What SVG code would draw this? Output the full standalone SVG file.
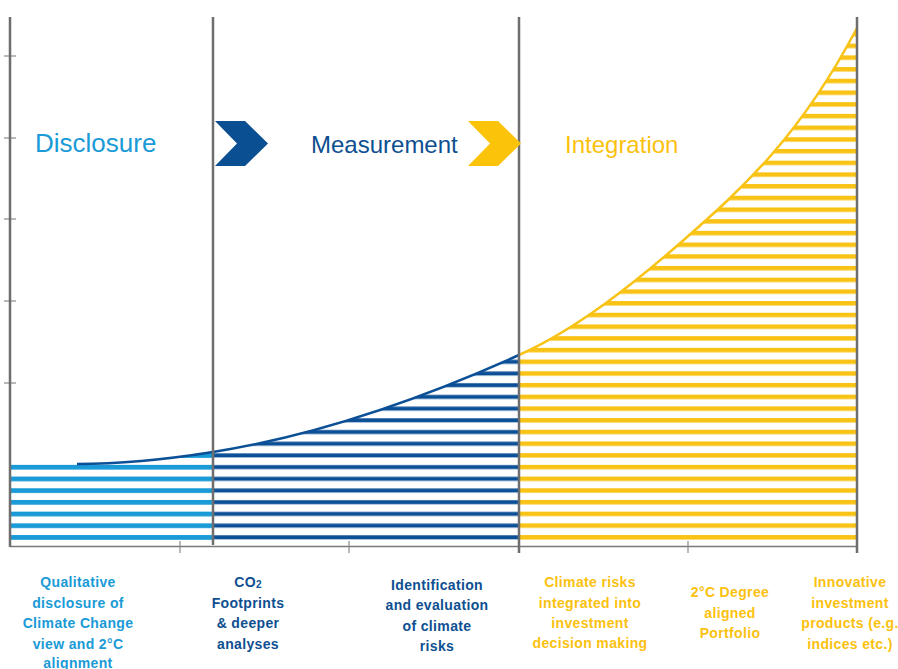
<svg xmlns="http://www.w3.org/2000/svg" width="898" height="669" viewBox="0 0 898 669">
<style>
.lbl{font-family:"Liberation Sans",Arial,sans-serif;font-weight:bold;font-size:14px;letter-spacing:0.35px;text-anchor:middle}
.head{font-family:"Liberation Sans",Arial,sans-serif}
.lb{fill:#1a9ad6}.db{fill:#0e4f91}.yl{fill:#fbc10f}
.div{stroke:#6e6e6e;stroke-width:2.5;fill:none}
.axis{stroke:#7a7a7a;stroke-width:1.5;fill:none}
.tick{stroke:#8a8a8a;stroke-width:1.2}
</style>
<defs>
<pattern id="pL" patternUnits="userSpaceOnUse" x="0" y="8.55" width="900" height="11.7"><rect x="0" y="-0.25" width="900" height="5" fill="#1a9ad6"/></pattern>
<pattern id="pD" patternUnits="userSpaceOnUse" x="0" y="8.55" width="900" height="11.7"><rect x="0" y="0.25" width="900" height="4" fill="#0b4f96"/></pattern>
<pattern id="pY" patternUnits="userSpaceOnUse" x="0" y="8.55" width="900" height="11.7"><rect x="0" y="0" width="900" height="4.5" fill="#f9c316"/></pattern>
<clipPath id="under"><path d="M10,464 L77,464 C122.3,464 167.7,459.2 213,452 C315,435.7 417,400.9 519,355 C574.7,330 630.3,287 686,238 C743,187.8 800,136.3 857,28 L857,546 L10,546 Z"/></clipPath>
</defs>

<g id="stripes" clip-path="url(#under)">
<rect x="10" y="0" width="203" height="541" fill="url(#pL)"/>
<rect x="213" y="0" width="306" height="541" fill="url(#pD)"/>
<rect x="519" y="0" width="338" height="541" fill="url(#pY)"/>
</g>

<g id="curve" fill="none" stroke-width="2.5">
<path d="M77,464 C122.3,464 167.7,459.2 213,452 C315,435.7 417,400.9 519,355" stroke="#0b4f96"/>
<path d="M519,355 C574.7,330 630.3,287 686,238 C743,187.8 800,136.3 857,28" stroke="#f9c316"/>
</g>

<g id="axes">
<line class="axis" x1="10" y1="546.5" x2="857" y2="546.5"/>
<line class="tick" x1="180" y1="541" x2="180" y2="553"/>
<line class="tick" x1="349" y1="541" x2="349" y2="553"/>
<line class="tick" x1="688" y1="541" x2="688" y2="553"/>
<line class="tick" x1="4" y1="56" x2="16" y2="56"/>
<line class="tick" x1="4" y1="138" x2="16" y2="138"/>
<line class="tick" x1="4" y1="219" x2="16" y2="219"/>
<line class="tick" x1="4" y1="301" x2="16" y2="301"/>
<line class="tick" x1="4" y1="383" x2="16" y2="383"/>
<line class="div" x1="10" y1="17" x2="10" y2="547"/>
</g>

<g id="dividers">
<line class="div" x1="213" y1="17" x2="213" y2="545"/>
<line class="div" x1="519" y1="17" x2="519" y2="553"/>
<line class="div" x1="857" y1="17" x2="857" y2="553"/>
</g>

<g id="stage-disclosure">
<text class="head lb" x="35" y="152" font-size="26">Disclosure</text>
</g>
<g id="chevron-blue">
<polygon points="215,121 245,121 268,143.5 245,166 215,166 237,143.5" fill="#0b4f93"/>
</g>
<g id="stage-measurement">
<text class="head db" x="311" y="153" font-size="24">Measurement</text>
</g>
<g id="chevron-yellow">
<polygon points="468,121 498,121 521,143.5 498,166 468,166 490,143.5" fill="#fcc30b"/>
</g>
<g id="stage-integration">
<text class="head yl" x="565" y="153" font-size="24">Integration</text>
</g>

<g id="label-qualitative">
<text class="lbl lb" x="78" y="587">Qualitative</text>
<text class="lbl lb" x="78" y="607.5">disclosure of</text>
<text class="lbl lb" x="78" y="628">Climate Change</text>
<text class="lbl lb" x="78" y="648.5">view and 2°C</text>
<text class="lbl lb" x="78" y="667.5">alignment</text>
</g>
<g id="label-co2">
<text class="lbl db" x="248" y="587">CO<tspan font-size="10" dy="1">2</tspan></text>
<text class="lbl db" x="248" y="607.5">Footprints</text>
<text class="lbl db" x="248" y="628">&amp; deeper</text>
<text class="lbl db" x="248" y="649">analyses</text>
</g>
<g id="label-identification">
<text class="lbl db" x="437" y="589.5">Identification</text>
<text class="lbl db" x="437" y="610">and evaluation</text>
<text class="lbl db" x="437" y="630.5">of climate</text>
<text class="lbl db" x="437" y="651">risks</text>
</g>
<g id="label-climate-risks">
<text class="lbl yl" x="590" y="587">Climate risks</text>
<text class="lbl yl" x="590" y="607.5">integrated into</text>
<text class="lbl yl" x="590" y="627.5">investment</text>
<text class="lbl yl" x="590" y="648">decision making</text>
</g>
<g id="label-portfolio">
<text class="lbl yl" x="730" y="597">2°C Degree</text>
<text class="lbl yl" x="730" y="617.5">aligned</text>
<text class="lbl yl" x="730" y="638">Portfolio</text>
</g>
<g id="label-innovative">
<text class="lbl yl" x="850" y="587">Innovative</text>
<text class="lbl yl" x="850" y="607.5">investment</text>
<text class="lbl yl" x="850" y="628">products (e.g.</text>
<text class="lbl yl" x="850" y="648.5">indices etc.)</text>
</g>
</svg>
